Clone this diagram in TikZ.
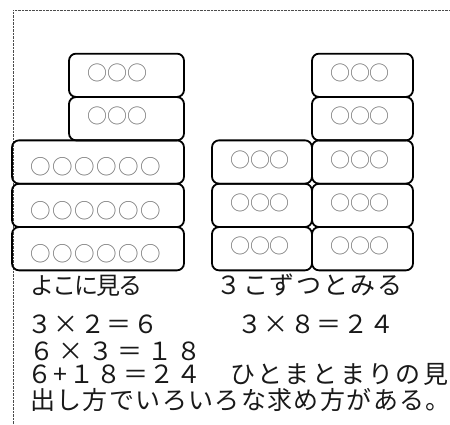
\documentclass[tikz,border=0pt]{standalone}
\usepackage{fontspec}
\newfontfamily\jp{Noto Sans CJK JP}
% Japanese text at a given size with a given letter spacing
\newcommand\jptext[2]{\jp\fontsize{#1}{#1}\selectfont\addfontfeature{LetterSpace=#2}}
\begin{document}
\begin{tikzpicture}[x=1pt,y=-1pt,
  block/.style={draw=black, line width=1.8pt, rounded corners=7pt,
    minimum width=#1, minimum height=43.3pt, inner sep=0pt},
  beads/.style={text=black!55, inner sep=0pt, font=\jptext{20}{-2}},
  wbeads/.style={text=black!55, inner sep=0pt, font=\jptext{20.5}{7}},
  txt/.style={anchor=base west, inner sep=0pt, text=black!90},
  frame/.style={draw=black!70, line width=0.8pt, dash pattern=on 0.7pt off 0.7pt}]
\useasboundingbox (0,0) rectangle (450,424);

% dotted frame
\coordinate (fl) at (13,424);
\coordinate (fc) at (13,10);
\coordinate (fr) at (450,10);
\draw[frame] (fl) -- (fc) -- (fr);

% left stack: seen in rows
\node[block=115pt] (a1) at (126.5,75.3) {};
\node[block=115pt] (a2) at (126.5,118.7) {};
\node[block=172pt] (a3) at (98,162) {};
\node[block=172pt] (a4) at (98,205.4) {};
\node[block=172pt] (a5) at (98,248.7) {};
\node[beads] (a1d) at (117.5,72.8) {○○○};
\node[beads] (a2d) at (117.5,116.2) {○○○};
\node[wbeads] (a3d) at (96,167) {○○○○○○};
\node[wbeads] (a4d) at (96,210.4) {○○○○○○};
\node[wbeads] (a5d) at (96,253.7) {○○○○○○};

% right stack: groups of three
\node[block=100pt] (b3) at (262,162) {};
\node[block=100pt] (b4) at (262,205.4) {};
\node[block=100pt] (b5) at (262,248.7) {};
\node[block=101pt] (c1) at (362.5,75.3) {};
\node[block=101pt] (c2) at (362.5,118.7) {};
\node[block=101pt] (c3) at (362.5,162) {};
\node[block=101pt] (c4) at (362.5,205.4) {};
\node[block=101pt] (c5) at (362.5,248.7) {};
\node[beads] (b3d) at (260,159.5) {○○○};
\node[beads] (b4d) at (260,202.9) {○○○};
\node[beads] (b5d) at (260,246.2) {○○○};
\node[beads] (c1d) at (360,72.8) {○○○};
\node[beads] (c2d) at (360,116.2) {○○○};
\node[beads] (c3d) at (360,159.5) {○○○};
\node[beads] (c4d) at (360,202.9) {○○○};
\node[beads] (c5d) at (360,246.2) {○○○};

% explanations
\node[txt, font=\jptext{24}{-8}] (t1) at (30,294) {よこに見る};
\node[txt, font=\jptext{25}{8}] (t2) at (216,294) {３こずつとみる};
\node[txt, font=\jptext{25}{6}] (t3) at (27,333) {３×２＝６};
\node[txt, font=\jptext{25}{6}] (t4) at (237,333) {３×８＝２４};
\node[txt, font=\jptext{25}{18}] (t5) at (29,360) {６×３＝１８};
\node[txt, font=\jptext{25}{7}] (t6) at (27,383) {６+１８＝２４};
\node[txt, font=\jptext{25}{11}] (t7) at (230,383) {ひとまとまりの見};
\node[txt, font=\jptext{25}{5.5}] (t8) at (30,409) {出し方でいろいろな求め方がある。};
\end{tikzpicture}
\end{document}
